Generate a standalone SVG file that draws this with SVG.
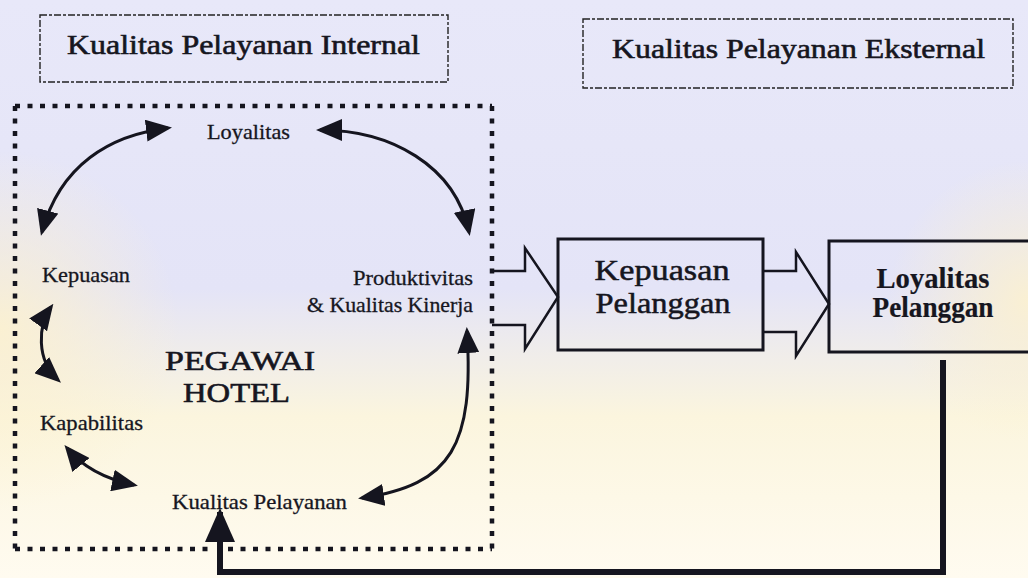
<svg xmlns="http://www.w3.org/2000/svg" width="1028" height="578" viewBox="0 0 1028 578">
  <defs>
    <linearGradient id="bgFade" x1="0" y1="0" x2="0" y2="1">
      <stop offset="0" stop-color="#e8e8f9"/>
      <stop offset="0.5" stop-color="#e4e4f7"/>
      <stop offset="0.72" stop-color="#fbf5de"/>
      <stop offset="1" stop-color="#fffbf0"/>
    </linearGradient>
    <radialGradient id="warmLeft" cx="0" cy="330" r="180" gradientUnits="userSpaceOnUse">
      <stop offset="0" stop-color="#fcf1cf" stop-opacity="0.9"/>
      <stop offset="1" stop-color="#fcf1cf" stop-opacity="0"/>
    </radialGradient>
    <radialGradient id="warmRight" cx="1028" cy="300" r="140" gradientUnits="userSpaceOnUse">
      <stop offset="0" stop-color="#fcf1cf" stop-opacity="0.9"/>
      <stop offset="1" stop-color="#fcf1cf" stop-opacity="0"/>
    </radialGradient>
    <marker id="head" viewBox="0 0 26 22" markerWidth="26" markerHeight="22" refX="22" refY="11" orient="auto-start-reverse" markerUnits="userSpaceOnUse">
      <path d="M0,0 L26,11 L0,22 z" fill="#15151f"/>
    </marker>
    <marker id="bigHead" viewBox="0 0 34 30" markerWidth="34" markerHeight="30" refX="30" refY="15" orient="auto" markerUnits="userSpaceOnUse">
      <path d="M0,0 L34,15 L0,30 z" fill="#15151f"/>
    </marker>
    <style>
      .lbl { font-family: "Liberation Serif", "Times New Roman", serif; fill: #16161f; stroke: #16161f; stroke-width: 0.3; }
      .hdr { font-size: 28px; stroke-width: 0.6; }
      .sm { font-size: 21px; }
      .mid { font-size: 28px; stroke-width: 0.6; }
      .box { font-size: 29px; stroke-width: 0.5; }
      .bold { font-weight: bold; stroke-width: 0.2; }
      .dashbox { fill: none; stroke: #222; stroke-width: 1.4; stroke-dasharray: 7 2 3 2; }
      .dots { fill: none; stroke: #15151f; stroke-width: 4.5; stroke-dasharray: 5 7.5; }
      .curve { fill: none; stroke: #15151f; stroke-width: 3; marker-start: url(#head); marker-end: url(#head); }
      .block { fill: none; stroke: #15151f; stroke-width: 2.5; stroke-linejoin: miter; }
      .frame { fill: none; stroke: #15151f; stroke-width: 3; }
      .feed { fill: none; stroke: #15151f; stroke-width: 6; }
    </style>
  </defs>

  <!-- paper tint -->
  <rect x="0" y="0" width="1028" height="578" fill="url(#bgFade)"/>
  <rect x="0" y="0" width="1028" height="578" fill="url(#warmLeft)"/>
  <rect x="0" y="0" width="1028" height="578" fill="url(#warmRight)"/>

  <!-- section headers -->
  <g id="header-internal">
    <rect class="dashbox" x="40" y="15" width="408" height="67"/>
    <text class="lbl hdr" x="243.5" y="54" text-anchor="middle" textLength="353" lengthAdjust="spacingAndGlyphs">Kualitas Pelayanan Internal</text>
  </g>
  <g id="header-external">
    <rect class="dashbox" x="583" y="19" width="430" height="69"/>
    <text class="lbl hdr" x="798.5" y="58" text-anchor="middle" textLength="373" lengthAdjust="spacingAndGlyphs">Kualitas Pelayanan Eksternal</text>
  </g>

  <!-- employee cycle frame -->
  <g id="pegawai-frame">
    <line class="dots" x1="15" y1="106" x2="492" y2="106"/>
    <line class="dots" x1="15" y1="106" x2="15" y2="549"/>
    <line class="dots" x1="492" y1="106" x2="492" y2="549"/>
    <line class="dots" x1="15" y1="549" x2="212" y2="549"/>
    <line class="dots" x1="228" y1="549" x2="492" y2="549"/>
    <text class="lbl mid" x="240" y="370" text-anchor="middle" textLength="150" lengthAdjust="spacingAndGlyphs">PEGAWAI</text>
    <text class="lbl mid" x="236.5" y="402" text-anchor="middle" textLength="107" lengthAdjust="spacingAndGlyphs">HOTEL</text>
  </g>

  <g id="node-loyalitas">
    <text class="lbl sm" x="207" y="139" textLength="83" lengthAdjust="spacingAndGlyphs">Loyalitas</text>
  </g>
  <g id="node-kepuasan">
    <text class="lbl sm" x="42" y="282" textLength="88" lengthAdjust="spacingAndGlyphs">Kepuasan</text>
  </g>
  <g id="node-produktivitas">
    <text class="lbl sm" x="473" y="285" text-anchor="end" textLength="120" lengthAdjust="spacingAndGlyphs">Produktivitas</text>
    <text class="lbl sm" x="473" y="312" text-anchor="end" textLength="166" lengthAdjust="spacingAndGlyphs">&amp; Kualitas Kinerja</text>
  </g>
  <g id="node-kapabilitas">
    <text class="lbl sm" x="40" y="430" textLength="103" lengthAdjust="spacingAndGlyphs">Kapabilitas</text>
  </g>
  <g id="node-kualitas-pelayanan">
    <text class="lbl sm" x="172" y="509" textLength="175" lengthAdjust="spacingAndGlyphs">Kualitas Pelayanan</text>
  </g>

  <g id="node-kepuasan-pelanggan">
    <rect class="frame" x="558" y="239" width="205" height="111"/>
    <text class="lbl box" x="662" y="280" text-anchor="middle" textLength="135" lengthAdjust="spacingAndGlyphs">Kepuasan</text>
    <text class="lbl box" x="663" y="313" text-anchor="middle" textLength="135" lengthAdjust="spacingAndGlyphs">Pelanggan</text>
  </g>
  <g id="node-loyalitas-pelanggan">
    <rect class="frame" x="829" y="241" width="215" height="111"/>
    <text class="lbl box bold" x="933" y="288" text-anchor="middle" textLength="113" lengthAdjust="spacingAndGlyphs">Loyalitas</text>
    <text class="lbl box bold" x="933" y="317" text-anchor="middle" textLength="121" lengthAdjust="spacingAndGlyphs">Pelanggan</text>
  </g>

  <!-- connectors -->
  <g id="connectors">
    <path class="curve" d="M168,128 C110,135 60,165 42,232"/>
    <path class="curve" d="M320,130 C390,130 455,165 469,232"/>
    <path class="curve" d="M51,307 C38,325 36,360 58,380"/>
    <path class="curve" d="M67,448 C85,470 110,480 134,485"/>
    <path class="curve" d="M467,331 C474,445 452,485 362,498"/>
    <polyline class="block" points="492,271 525,271 525,248 558,297 525,349 525,325 492,325"/>
    <polyline class="block" points="763,271 796,271 796,252 829,304 796,356 796,332 763,332"/>
    <path class="feed" d="M943,360 V572 H220 V512" marker-end="url(#bigHead)"/>
  </g>
</svg>
